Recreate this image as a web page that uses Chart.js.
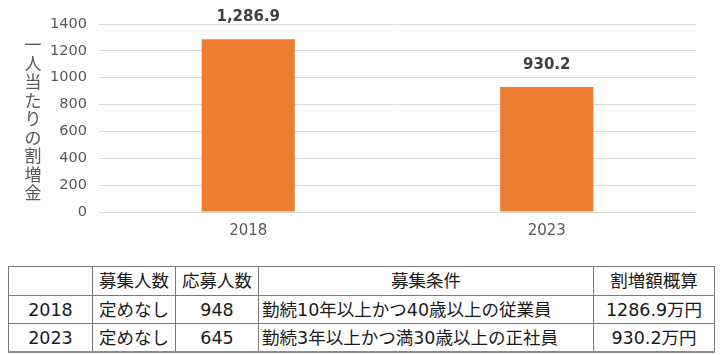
<!DOCTYPE html>
<html lang="ja">
<head>
<meta charset="utf-8">
<script src="https://cdn.jsdelivr.net/npm/chart.js@4"></script>
<style>
  html, body { margin: 0; padding: 0; background: #fff; }
  #wrap { position: relative; width: 721px; height: 355px; overflow: hidden; }
  #c { position: absolute; left: 0; top: 0; }
  table {
    position: absolute; left: 8px; top: 266px; width: 706px;
    border-collapse: collapse; table-layout: fixed;
    font-family: "DejaVu Sans", "Noto Sans CJK JP", sans-serif; font-size: 17.5px; color: #1a1a1a;
  }
  td { border: 1px solid #7a7a7a; padding: 0 3px; text-align: center; white-space: nowrap; overflow: hidden; line-height: 20px; }
  tr.h td { height: 28px; }
  tr.r td { height: 27px; }
  tr:last-child td { border-bottom: 2px solid #8a8a8a; }
  td.l { text-align: left; }
</style>
</head>
<body>
<div id="wrap">
  <canvas id="c" width="721" height="255"></canvas>
  <table id="tbl">
    <colgroup><col style="width:84px"><col style="width:83px"><col style="width:83px"><col style="width:335px"><col style="width:121px"></colgroup>
  </table>
</div>
<script>
// ---- data ----
const categories = ["2018", "2023"];
const bonusValues = [1286.9, 930.2];
const bonusLabels = ["1,286.9", "930.2"];
const yTicks = [0, 200, 400, 600, 800, 1000, 1200, 1400];
const yTitle = "一人当たりの割増金";

const tableHeader = ["", "募集人数", "応募人数", "募集条件", "割増額概算"];
const tableYears = ["2018", "2023"];
const tableRecruit = ["定めなし", "定めなし"];
const tableApplicants = ["948", "645"];
const tableConditions = ["勤続10年以上かつ40歳以上の従業員", "勤続3年以上かつ満30歳以上の正社員"];
const tableAmounts = ["1286.9万円", "930.2万円"];

// ---- table ----
const tbl = document.getElementById("tbl");
const hr = document.createElement("tr"); hr.className = "h";
tableHeader.forEach(t => { const td = document.createElement("td"); td.textContent = t; hr.appendChild(td); });
tbl.appendChild(hr);
tableYears.forEach((y, i) => {
  const tr = document.createElement("tr"); tr.className = "r";
  [[y, ""], [tableRecruit[i], ""], [tableApplicants[i], ""], [tableConditions[i], "l"], [tableAmounts[i], ""]].forEach(([t, c]) => {
    const td = document.createElement("td"); td.textContent = t; if (c) td.className = c; tr.appendChild(td);
  });
  tbl.appendChild(tr);
});

// ---- chart ----
const labelPlugin = {
  id: "labels",
  afterDatasetsDraw(chart) {
    const ctx = chart.ctx;
    const meta = chart.getDatasetMeta(0);
    ctx.save();
    ctx.font = "bold 15px \"DejaVu Sans\", sans-serif";
    ctx.fillStyle = "#404040";
    ctx.textAlign = "center";
    ctx.textBaseline = "middle";
    meta.data.forEach((bar, i) => {
      ctx.fillText(bonusLabels[i], bar.x, bar.y - 22);
    });
    ctx.restore();
  }
};
const vTitlePlugin = {
  id: "vtitle",
  afterDraw(chart) {
    const ctx = chart.ctx;
    const area = chart.chartArea;
    ctx.save();
    ctx.font = "17px \"Noto Sans CJK JP\", sans-serif";
    ctx.fillStyle = "#595959";
    ctx.textAlign = "center";
    ctx.textBaseline = "middle";
    const chars = Array.from(yTitle);
    const step = 18.5;
    const mid = (area.top + area.bottom) / 2 + 1;
    const start = mid - step * (chars.length - 1) / 2;
    chars.forEach((ch, i) => ctx.fillText(ch, 33, start + i * step));
    ctx.restore();
  }
};

new Chart(document.getElementById("c"), {
  type: "bar",
  data: {
    labels: categories,
    datasets: [{ data: bonusValues, backgroundColor: "#ED7D31", borderWidth: 0, barPercentage: 0.39, categoryPercentage: 0.8 }]
  },
  options: {
    responsive: false,
    animation: false,
    devicePixelRatio: 1,
    layout: { padding: { top: 24, right: 25, left: 0, bottom: 0 } },
    plugins: { legend: { display: false }, tooltip: { enabled: false } },
    scales: {
      x: {
        grid: { display: false, drawTicks: false },
        border: { display: false },
        ticks: { color: "#595959", font: { family: "DejaVu Sans, sans-serif", size: 15 }, padding: 10 },
        afterFit: s => { s.height = 43; }
      },
      y: {
        min: 0, max: 1400,
        afterBuildTicks: s => { s.ticks = yTicks.map(v => ({ value: v })); },
        grid: { color: "#d9d9d9", lineWidth: 1, drawTicks: false },
        border: { display: false },
        ticks: {
          color: "#595959", font: { family: "DejaVu Sans, sans-serif", size: 14.5 }, padding: 12,
          callback: v => String(v)
        },
        afterFit: s => { s.width = 99; }
      }
    }
  },
  plugins: [labelPlugin, vTitlePlugin]
});
</script>
</body>
</html>
